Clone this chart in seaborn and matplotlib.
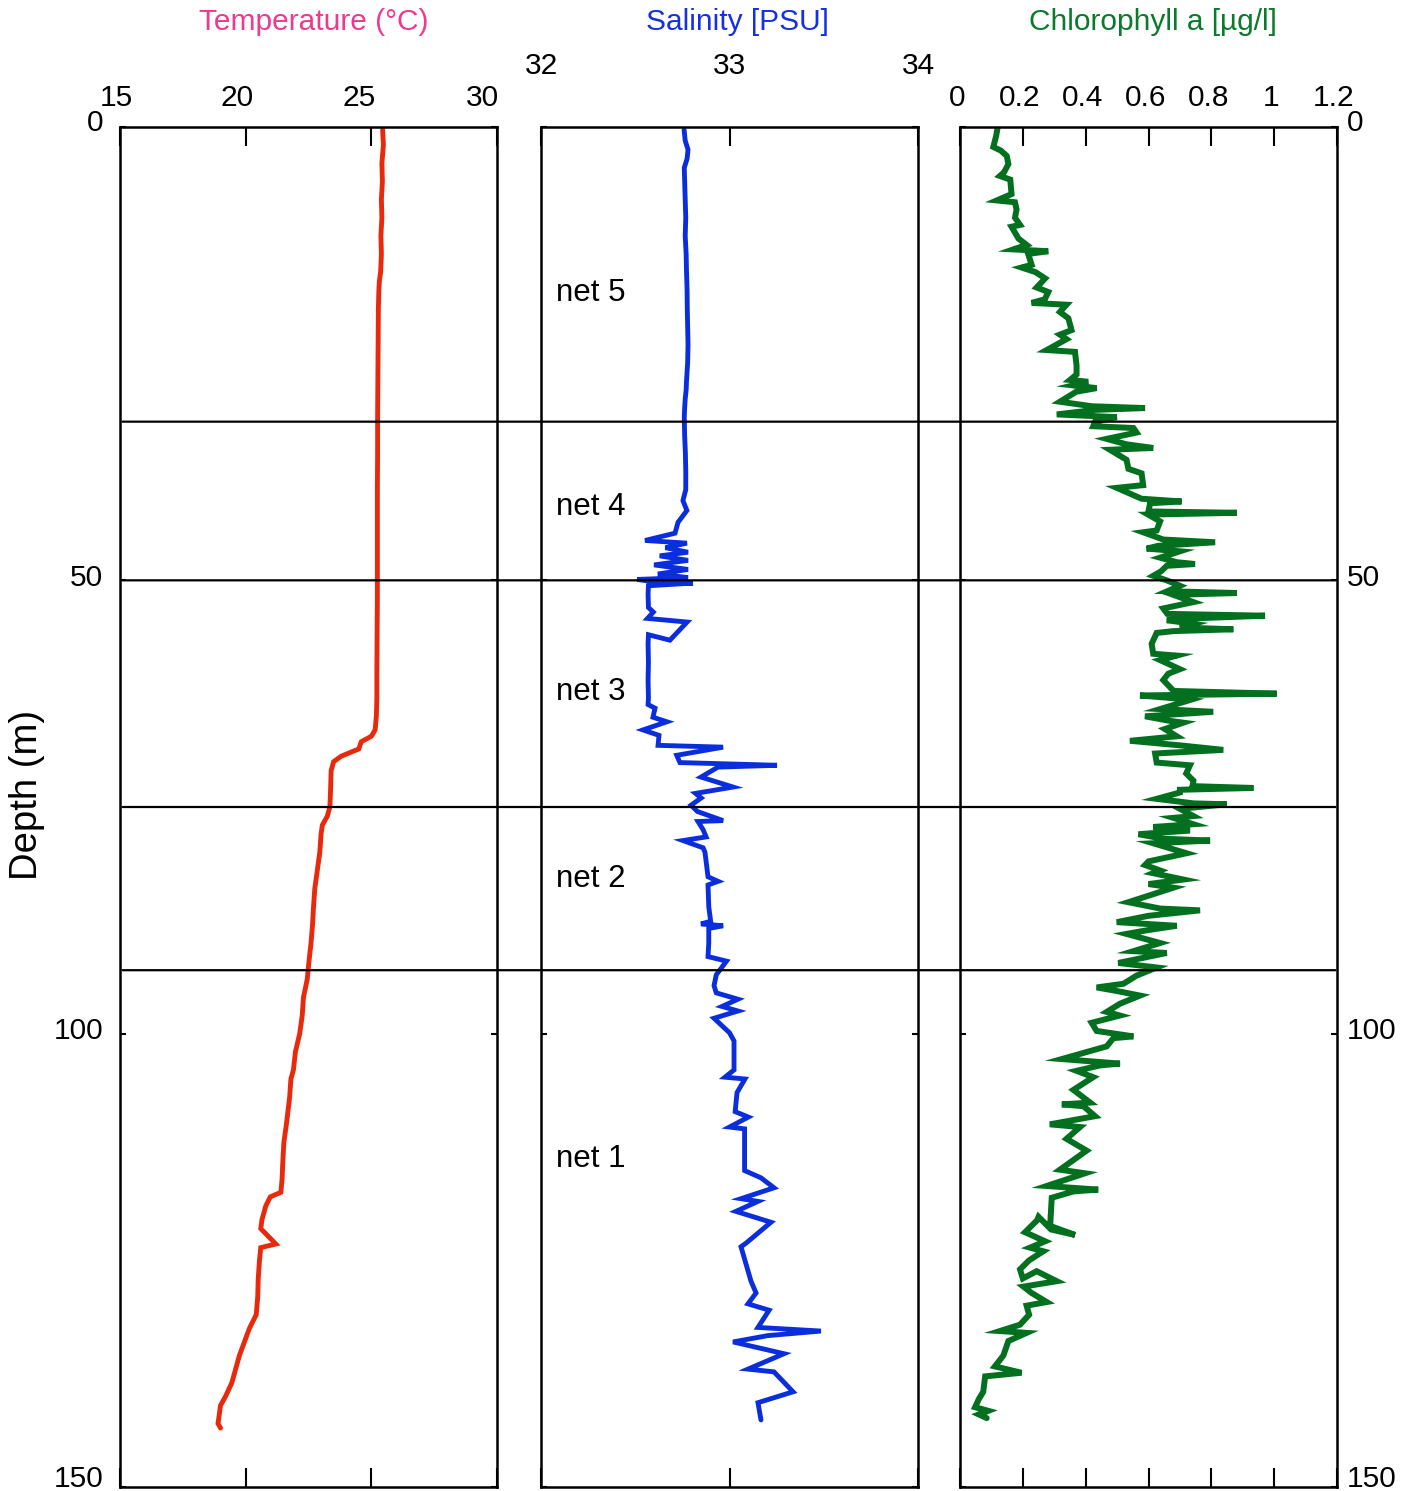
import matplotlib
matplotlib.use("Agg")
import matplotlib.pyplot as plt
import seaborn as sns
from matplotlib.patches import ConnectionPatch
from matplotlib.transforms import ScaledTranslation

sns.set_theme(style="white")
plt.rcParams['font.family'] = ['Liberation Sans', 'DejaVu Sans']

# ---------------- profile data ----------------
temp_depth = [0.3, 2, 4, 6, 8, 10, 12, 14, 16, 17, 18, 20, 24, 28, 32, 36, 40, 44, 48,
              52, 56, 60, 63, 65.0, 66.5, 67.2, 67.8, 68.6, 69.4, 70.0, 71, 73, 75, 76,
              77, 78, 80, 82, 84, 86, 88, 90, 92, 94, 96, 98, 100, 102, 104, 105, 107,
              110, 112, 114, 116, 117.5, 118.0, 119, 120.5, 121.5, 123.2, 123.6, 125,
              127, 129, 131, 132.5, 134, 135.5, 137, 138.5, 140, 141, 142, 143, 143.5]
temp_val = [25.45, 25.48, 25.42, 25.44, 25.40, 25.42, 25.38, 25.40, 25.37, 25.32, 25.30,
            25.28, 25.27, 25.26, 25.25, 25.25, 25.24, 25.24, 25.24, 25.24, 25.23, 25.22,
            25.22, 25.20, 25.15, 25.00, 24.60, 24.50, 23.80, 23.50, 23.40, 23.38, 23.35,
            23.25, 23.05, 23.00, 22.95, 22.85, 22.75, 22.70, 22.66, 22.60, 22.52, 22.45,
            22.30, 22.25, 22.15, 21.98, 21.90, 21.80, 21.75, 21.62, 21.52, 21.48, 21.45,
            21.40, 20.98, 20.80, 20.65, 20.60, 21.20, 20.60, 20.55, 20.50, 20.48, 20.42,
            20.15, 19.95, 19.75, 19.60, 19.45, 19.20, 19.00, 18.95, 18.90, 19.00]

sal_depth = [0.3, 1.5, 2.5, 3.5, 4.5, 6, 8, 10, 12, 14, 16, 18, 20, 22, 24, 26, 28, 29,
             30, 31, 32, 34, 36, 38, 40, 41.2, 42.3, 43.6, 44.8, 45.6, 45.9, 46.4, 46.9,
             47.3, 47.8, 48.3, 48.8, 49.3, 49.7, 49.9, 50.1, 50.3, 50.6, 51.5, 53.0, 53.5,
             54.2, 54.6, 56.6, 56.0, 57, 59, 61, 63, 63.7, 64.1, 65.1, 65.6, 66.5, 67.1,
             68.2, 68.4, 69.3, 70.1, 70.4, 70.6, 71.7, 72.8, 73.5, 74.0, 74.8, 75.5, 76.5,
             76.6, 77.5, 78.3, 78.7, 79.5, 80, 82.7, 83.2, 83.6, 86, 87.6, 87.9, 88.1,
             88.4, 90, 91.5, 92.0, 93.5, 94.7, 95.5, 96.2, 97.0, 97.5, 98.3, 99.9, 100.8,
             104.0, 104.8, 105.0, 106.5, 108.6, 109.2, 110.3, 110.5, 112, 115.1, 115.9,
             117.0, 118.2, 118.5, 119.6, 120.8, 123.1, 123.5, 127.3, 128.6, 129.8, 130.5,
             132.4, 132.8, 133.3, 134.0, 135.3, 137.0, 137.3, 139.5, 140.7, 142.6]
sal_val = [32.759, 32.765, 32.780, 32.775, 32.760, 32.762, 32.765, 32.768, 32.765,
           32.770, 32.772, 32.775, 32.776, 32.778, 32.780, 32.778, 32.772, 32.770,
           32.765, 32.762, 32.760, 32.762, 32.766, 32.768, 32.768, 32.753, 32.774,
           32.727, 32.711, 32.552, 32.774, 32.660, 32.780, 32.630, 32.780, 32.600,
           32.780, 32.620, 32.780, 32.510, 32.580, 32.806, 32.570, 32.568, 32.570,
           32.596, 32.565, 32.775, 32.684, 32.570, 32.568, 32.570, 32.568, 32.570,
           32.568, 32.605, 32.594, 32.668, 32.541, 32.626, 32.621, 32.966, 32.720,
           32.737, 33.252, 32.939, 32.849, 33.019, 32.820, 32.850, 32.796, 32.830,
           32.966, 32.833, 32.860, 32.876, 32.753, 32.860, 32.870, 32.886, 32.940,
           32.886, 32.890, 32.900, 32.849, 32.966, 32.890, 32.890, 32.886, 32.984,
           32.930, 32.918, 32.930, 33.045, 32.960, 33.045, 32.918, 33.000, 33.024,
           33.024, 32.976, 33.082, 33.040, 33.030, 33.100, 33.000, 33.080, 33.080,
           33.080, 33.167, 33.236, 33.061, 33.151, 33.034, 33.220, 33.088, 33.061,
           33.114, 33.141, 33.098, 33.210, 33.151, 33.485, 33.204, 33.019, 33.289,
           33.098, 33.236, 33.337, 33.151, 33.167]

chl_depth = [0.0, 1.0, 2.2, 2.6, 3.2, 4.1, 5.0, 5.4, 5.8, 7.4, 8.1, 8.3, 9.1, 10.0, 10.8,
             11.0, 12.3, 13.0, 13.5, 13.7, 14.0, 15.2, 15.5, 16.0, 16.7, 17.7, 18.2, 19.0,
             19.4, 19.6, 20.4, 21.1, 22.4, 22.9, 23.4, 24.6, 24.8, 26.3, 27.3, 27.9, 28.1,
             28.5, 28.8, 29.2, 30.3, 30.8, 31.0, 31.2, 31.7, 32.0, 32.5, 33.0, 33.2, 33.7,
             34.4, 35.0, 35.4, 35.6, 36.7, 37.7, 38.2, 39.5, 39.8, 41.0, 41.3, 41.5, 42.4,
             42.55, 42.75, 43.5, 44.5, 44.7, 45.5, 45.8, 46.2, 46.5, 46.8, 47.5, 48.0, 48.2,
             48.4, 49.0, 49.5, 50.0, 50.6, 51.2, 51.4, 51.6, 52.4, 53.1, 53.7, 53.9, 54.2,
             54.4, 54.8, 55.2, 55.4, 55.6, 55.8, 57.0, 58.1, 58.3, 58.8, 59.8, 60.3, 61.0,
             62.2, 62.5, 62.7, 63.0, 63.2, 64.2, 64.5, 65.0, 65.5, 65.7, 66.4, 67.2, 67.7,
             68.2, 68.7, 69.1, 70.1, 70.4, 71.3, 72.1, 72.7, 72.9, 73.1, 73.4, 74.1, 74.6,
             74.7, 75.2, 76.0, 76.2, 76.9, 77.2, 77.6, 78.0, 78.5, 78.7, 79.0, 80.1, 81.0,
             81.4, 82.0, 82.3, 83.0, 83.5, 83.9, 85.5, 86.2, 86.4, 87.0, 87.7, 88.1, 88.6,
             89.0, 90.0, 90.9, 91.1, 92.2, 92.7, 93.6, 94.5, 94.9, 95.3, 95.8, 96.7, 97.6,
             98.0, 98.8, 99.7, 100.3, 100.5, 101.4, 102.8, 103.3, 103.5, 104.1, 104.8, 106.2,
             107.6, 107.8, 108.0, 109.1, 110.0, 110.3, 111.6, 112.9, 115.0, 115.4, 116.8,
             117.2, 117.4, 118.1, 121.2, 122.2, 121.6, 120.2, 120.6, 121.9, 122.9, 123.6,
             124.0, 125.0, 126.0, 127.0, 126.2, 127.3, 127.9, 128.6, 129.6, 130.0, 131.0,
             132.1, 132.8, 133.0, 133.9, 135.5, 136.7, 137.4, 137.8, 139.5, 140.3, 141.2,
             141.6, 142.0, 142.4]
chl_val = [0.120, 0.115, 0.106, 0.130, 0.149, 0.154, 0.140, 0.127, 0.160, 0.164, 0.117,
           0.175, 0.180, 0.175, 0.191, 0.164, 0.186, 0.212, 0.170, 0.281, 0.217, 0.228,
           0.196, 0.240, 0.271, 0.244, 0.281, 0.270, 0.228, 0.339, 0.318, 0.345, 0.355,
           0.318, 0.339, 0.276, 0.366, 0.371, 0.371, 0.350, 0.408, 0.360, 0.435, 0.370,
           0.318, 0.420, 0.589, 0.430, 0.308, 0.499, 0.430, 0.424, 0.552, 0.562, 0.467,
           0.530, 0.615, 0.477, 0.530, 0.536, 0.578, 0.583, 0.499, 0.578, 0.705, 0.605,
           0.600, 0.881, 0.599, 0.637, 0.626, 0.583, 0.647, 0.812, 0.630, 0.594, 0.700,
           0.637, 0.690, 0.748, 0.658, 0.640, 0.615, 0.658, 0.700, 0.660, 0.881, 0.679,
           0.743, 0.647, 0.660, 0.971, 0.740, 0.658, 0.743, 0.700, 0.870, 0.680, 0.626,
           0.610, 0.615, 0.690, 0.637, 0.700, 0.663, 0.647, 0.680, 1.008, 0.573, 0.679,
           0.732, 0.637, 0.806, 0.589, 0.668, 0.711, 0.652, 0.690, 0.541, 0.700, 0.838,
           0.621, 0.626, 0.732, 0.720, 0.743, 0.740, 0.934, 0.700, 0.700, 0.626, 0.743,
           0.849, 0.700, 0.743, 0.679, 0.743, 0.615, 0.732, 0.568, 0.647, 0.796, 0.615,
           0.721, 0.600, 0.589, 0.637, 0.615, 0.711, 0.600, 0.679, 0.536, 0.637, 0.764,
           0.600, 0.499, 0.690, 0.594, 0.530, 0.637, 0.552, 0.658, 0.504, 0.626, 0.562,
           0.520, 0.435, 0.500, 0.573, 0.509, 0.467, 0.509, 0.419, 0.435, 0.552, 0.488,
           0.467, 0.324, 0.509, 0.446, 0.371, 0.424, 0.361, 0.414, 0.324, 0.393, 0.430,
           0.286, 0.382, 0.339, 0.403, 0.318, 0.398, 0.276, 0.440, 0.361, 0.292, 0.287,
           0.366, 0.290, 0.250, 0.245, 0.207, 0.271, 0.223, 0.265, 0.220, 0.191, 0.200,
           0.244, 0.308, 0.202, 0.228, 0.276, 0.212, 0.220, 0.191, 0.127, 0.212, 0.154,
           0.138, 0.111, 0.196, 0.080, 0.074, 0.060, 0.048, 0.090, 0.060, 0.085]

net_depths = [32.5, 50.0, 75.0, 93.0]
net_names = ["net 5", "net 4", "net 3", "net 2", "net 1"]
net_label_depths = [18.3, 41.9, 62.3, 82.9, 113.8]

temp_ticks = [15, 20, 25, 30]
sal_ticks = [32, 33, 34]
chl_ticks = [0, 0.2, 0.4, 0.6, 0.8, 1.0, 1.2]
chl_ticklabels = ["0", "0.2", "0.4", "0.6", "0.8", "1", "1.2"]
depth_ticks = [0, 50, 100, 150]

TEMP_COLOR = "#E8290B"
SAL_COLOR = "#0B2EDC"
CHL_COLOR = "#03701F"

# ---------------- figure layout ----------------
W, H = 1414, 1491
fig = plt.figure(figsize=(W / 100, H / 100), dpi=100)
fig.patch.set_facecolor("white")


def make_axes(x_left):
    ax = fig.add_axes([x_left / W, (H - 1487) / H, 377 / W, 1360 / H])
    ax.set_facecolor("white")
    for s in ax.spines.values():
        s.set_color("black")
        s.set_linewidth(1.8)
    ax.grid(False)
    return ax


ax_t = make_axes(120)
ax_s = make_axes(541)
ax_c = make_axes(960)

profiles = [
    (ax_t, temp_val, temp_depth, TEMP_COLOR, 3.5),
    (ax_s, sal_val, sal_depth, SAL_COLOR, 3.5),
    (ax_c, chl_val, chl_depth, CHL_COLOR, 4.3),
]
for ax, xv, dv, col, lw in profiles:
    sns.lineplot(x=xv, y=dv, sort=False, estimator=None, color=col, linewidth=lw,
                 solid_joinstyle="miter", ax=ax)

ax_t.set_xlim(15, 30)
ax_s.set_xlim(32, 34)
ax_c.set_xlim(0, 1.2)

TICK_FS = 21.5
for ax in (ax_t, ax_s, ax_c):
    ax.set_ylim(150, 0)
    ax.set_yticks(depth_ticks)
    ax.set_ylabel("")
    ax.set_xlabel("")
    ax.xaxis.set_ticks_position("both")
    ax.tick_params(axis="x", direction="in", length=14, width=1.5, top=True, bottom=True,
                   labeltop=True, labelbottom=False, labelsize=TICK_FS, pad=11, colors="black")
    ax.tick_params(axis="y", direction="in", length=4, width=1.5, left=True, right=True,
                   labelleft=False, labelright=False, labelsize=TICK_FS, colors="black")

ax_t.set_xticks(temp_ticks)
ax_t.set_xticklabels([str(v) for v in temp_ticks])
ax_s.set_xticks(sal_ticks)
ax_s.set_xticklabels([str(v) for v in sal_ticks])
ax_s.tick_params(axis="x", pad=34)
ax_c.set_xticks(chl_ticks)
ax_c.set_xticklabels(chl_ticklabels)

ax_t.tick_params(axis="y", labelleft=True, pad=12)
ax_c.tick_params(axis="y", labelright=True, pad=7)


def shift(label, dx_px, dy_px):
    label.set_transform(label.get_transform() +
                        ScaledTranslation(dx_px / 100, dy_px / 100, fig.dpi_scale_trans))


# small offsets of the tick labels
for lab, dx in zip(ax_t.get_xticklabels(), [-4, -9, -12, -15]):
    shift(lab, dx, 0)
for lab in ax_c.get_xticklabels():
    shift(lab, -3, 0)
for ax in (ax_t, ax_c):
    for lab, dy in zip(ax.get_yticklabels(), [7, 5, 6, 11]):
        shift(lab, 0, dy)

# net boundaries spanning all three panels
for d in net_depths:
    con = ConnectionPatch(xyA=(15.1, d), coordsA=ax_t.transData,
                          xyB=(1.195, d), coordsB=ax_c.transData,
                          color="black", linewidth=1.6, zorder=5)
    fig.add_artist(con)

for name, d in zip(net_names, net_label_depths):
    ax_s.text(32.08, d, name, fontsize=22.5, va="center", ha="left", color="black")

# titles and depth label
TITLE_FS = 21.5
fig.text(314 / W, 1 - 22 / H, "Temperature (°C)", color="#F0388F", fontsize=TITLE_FS,
         ha="center", va="center")
fig.text(737 / W, 1 - 22 / H, "Salinity [PSU]", color="#1530E0", fontsize=TITLE_FS,
         ha="center", va="center")
fig.text(1153 / W, 1 - 22 / H, "Chlorophyll a [µg/l]", color="#0A7A2B", fontsize=TITLE_FS,
         ha="center", va="center")
fig.text(27 / W, 1 - 795 / H, "Depth (m)", rotation=90, fontsize=27.5,
         ha="center", va="center", color="black")

fig.savefig("out.png", dpi=100, facecolor="white")
